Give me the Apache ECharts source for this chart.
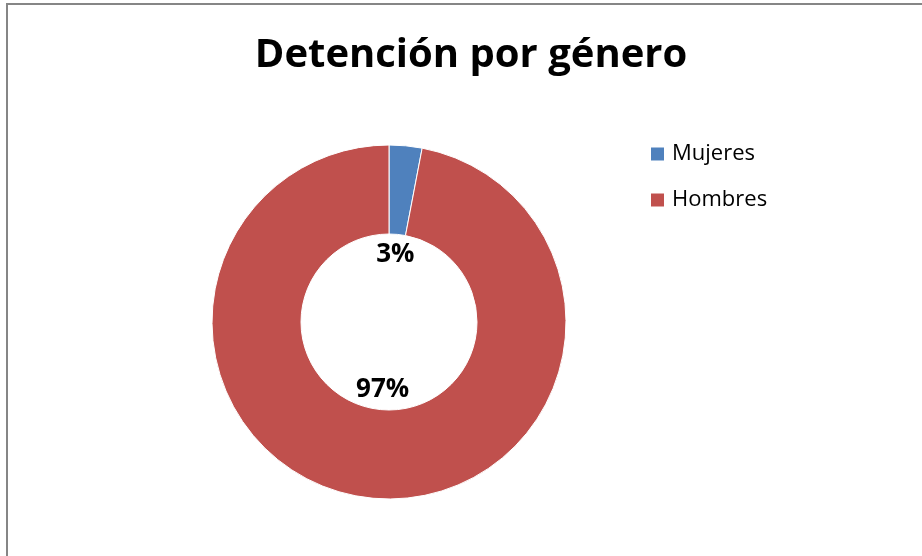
<!DOCTYPE html>
<html>
<head>
<meta charset="utf-8">
<script src="https://cdn.jsdelivr.net/npm/echarts@6/dist/echarts.min.js"></script>
<style>
html,body{margin:0;padding:0;background:#fff;}
#chart{width:922px;height:556px;}
</style>
</head>
<body>
<div id="chart"></div>
<script>
var categories = ["Mujeres", "Hombres"];
var values = [3, 97];
var labels = ["3%", "97%"];
var colors = ["#4F81BD", "#C0504D"];
var titleText = "Detención por género";

var font = "'Open Sans', 'Noto Sans', sans-serif";
var chart = echarts.init(document.getElementById('chart'), null, {renderer: 'canvas'});

var ringData = categories.map(function (c, i) {
  return {name: c, value: values[i], itemStyle: {color: colors[i]}};
});
var labelData = categories.map(function (c, i) {
  return {name: c, value: values[i], label: {formatter: labels[i]}};
});

chart.setOption({
  animation: false,
  backgroundColor: '#ffffff',
  title: {
    text: titleText,
    left: 466,
    textAlign: 'center',
    top: 31,
    textStyle: {fontFamily: font, fontWeight: 'bold', fontSize: 40, color: '#000'}
  },
  legend: {
    orient: 'vertical',
    left: 649,
    top: 143,
    padding: 0,
    itemWidth: 15,
    itemHeight: 15,
    itemGap: 24,
    icon: 'rect',
    data: categories,
    textStyle: {fontFamily: font, fontSize: 22, color: '#000', padding: [0, 0, 0, 2]}
  },
  graphic: [{
    type: 'rect',
    shape: {x: 7, y: 4, width: 930, height: 600},
    style: {fill: 'none', stroke: '#868686', lineWidth: 2},
    silent: true
  }],
  series: [
    {
      type: 'pie',
      center: [389, 322],
      radius: [88, 177],
      startAngle: 90,
      clockwise: true,
      silent: true,
      label: {show: false},
      labelLine: {show: false},
      itemStyle: {borderColor: '#ffffff', borderWidth: 1},
      data: ringData
    },
    {
      type: 'pie',
      center: [389, 322],
      radius: [0, 130],
      startAngle: 90,
      clockwise: true,
      silent: true,
      itemStyle: {color: 'rgba(0,0,0,0)'},
      label: {show: true, position: 'inside', fontFamily: font, fontWeight: 'bold', fontSize: 26, color: '#000'},
      labelLine: {show: false},
      emphasis: {disabled: true},
      data: labelData
    }
  ]
});
</script>
</body>
</html>
